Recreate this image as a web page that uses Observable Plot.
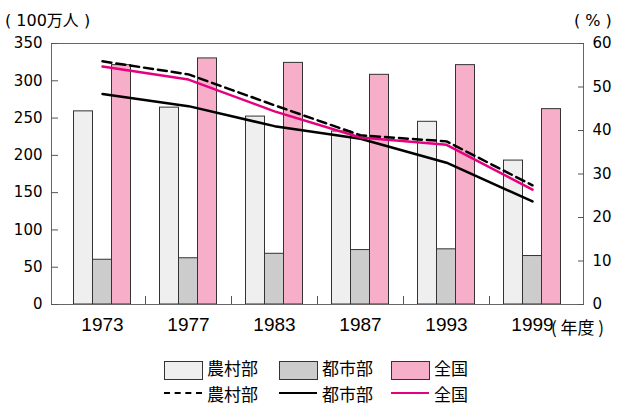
<!DOCTYPE html>
<html><head><meta charset="utf-8">
<script src="https://cdn.jsdelivr.net/npm/d3@7"></script>
<script src="https://cdn.jsdelivr.net/npm/@observablehq/plot@0.6"></script>
<style>
body{margin:0;background:#fff;}
#wrap{position:relative;width:619px;height:406px;overflow:hidden;font-family:"Liberation Sans",Arial,"Noto Sans CJK JP",sans-serif;}
.lab{position:absolute;font-family:"DejaVu Sans","Noto Sans CJK JP",sans-serif;font-size:16px;color:#000;white-space:nowrap;line-height:1;}
.lg{position:absolute;font-family:"Noto Sans CJK JP",sans-serif;font-size:17px;line-height:1;white-space:nowrap;}
.sw{position:absolute;width:37px;height:17px;border:1px solid #333;box-sizing:content-box;}
.ln{position:absolute;width:38px;height:0;}
</style></head>
<body><div id="wrap"></div>
<script>
const years = ["1973","1977","1983","1987","1993","1999"];
const ruralPop = [259, 264, 252, 232, 245, 193];
const urbanPop = [60, 62, 68, 73, 74, 65];
const nationalPop = [321, 330, 324, 308, 321, 262];
const ruralPct = [55.9, 52.9, 45.8, 38.9, 37.5, 27.4];
const urbanPct = [48.4, 45.6, 41.0, 38.1, 32.6, 23.7];
const nationalPct = [54.7, 51.7, 44.4, 38.4, 36.7, 26.4];
const leftTicks = [0, 50, 100, 150, 200, 250, 300, 350];
const rightTicks = [0, 10, 20, 30, 40, 50, 60];
const seriesNames = ["農村部", "都市部", "全国"];

const k = 350 / 60;
const rows = years.map((y, i) => ({
  year: y, rural: ruralPop[i], urban: urbanPop[i], national: nationalPop[i],
  ruralPct: ruralPct[i], urbanPct: urbanPct[i], nationalPct: nationalPct[i]
}));

const cLight = "#efefef", cGray = "#cccccc", cPink = "#f7aec8", cMag = "#e4007f";
const yFont = {fontFamily: "DejaVu Sans", fontSize: 15};

const chart = Plot.plot({
  width: 619, height: 340,
  marginLeft: 51, marginRight: 36, marginTop: 43, marginBottom: 36,
  x: {domain: years, inset: 8, padding: 0, label: null},
  y: {domain: [0, 350], label: null},
  style: {fontFamily: "Liberation Sans, Arial, sans-serif", fontSize: "15px", background: "white", color: "black"},
  marks: [
    Plot.barY(rows, {x: "year", y: "rural", fill: cLight, stroke: "#333", insetLeft: 14.5, insetRight: 52.5}),
    Plot.barY(rows, {x: "year", y: "urban", fill: cGray, stroke: "#333", insetLeft: 33.5, insetRight: 33.5}),
    Plot.barY(rows, {x: "year", y: "national", fill: cPink, stroke: "#333", insetLeft: 52.5, insetRight: 14.5}),
    Plot.line(rows, {x: "year", y: d => d.urbanPct * k, stroke: "black", strokeWidth: 2.5}),
    Plot.line(rows, {x: "year", y: d => d.nationalPct * k, stroke: cMag, strokeWidth: 2.5}),
    Plot.line(rows, {x: "year", y: d => d.ruralPct * k, stroke: "black", strokeWidth: 2.5, strokeDasharray: "9,5"}),
    Plot.frame({stroke: "#666"}),
    Plot.axisY({ticks: leftTicks, tickSize: 0, tickPadding: 9, ...yFont}),
    Plot.axisY({ticks: leftTicks, tickSize: -7, text: null, stroke: "#555"}),
    Plot.axisY({anchor: "right", ticks: rightTicks.map(p => p * k), tickFormat: d => Math.round(d / k), tickSize: 0, tickPadding: 9, ...yFont}),
    Plot.axisY({anchor: "right", ticks: rightTicks.map(p => p * k), tickSize: -6, text: null, stroke: "#555"}),
    Plot.axisX({tickSize: 0, tickPadding: 13, fontSize: 19}),
    Plot.axisX({ticks: years.slice(0, -1), tickSize: -8, text: null, dx: 43, stroke: "#555"})
  ]
});

const wrap = document.getElementById("wrap");
chart.style.position = "absolute";
chart.style.left = "0px";
chart.style.top = "0px";
wrap.appendChild(chart);

function add(cls, text, css) {
  const el = document.createElement("div");
  el.className = cls;
  if (text) el.textContent = text;
  Object.assign(el.style, css);
  wrap.appendChild(el);
  return el;
}
add("lab", "( 100万人 )", {left: "5px", top: "13px"});
add("lab", "( % )", {left: "574px", top: "13px"});
add("lg", "( 年度 )", {left: "551px", top: "318px"});

// legend
const swFill = [cLight, cGray, cPink];
const xs = [164, 279, 391];
const lineStyles = [
  {borderTop: "2.5px dashed #000"},
  {borderTop: "2.5px solid #000"},
  {borderTop: "2.5px solid " + cMag}
];
seriesNames.forEach((n, i) => {
  add("sw", "", {left: xs[i] + "px", top: "361px", background: swFill[i]});
  add("lg", n, {left: (xs[i] + 43) + "px", top: "359px"});
  add("ln", "", {left: xs[i] + "px", top: "392px", ...lineStyles[i]});
  add("lg", n, {left: (xs[i] + 43) + "px", top: "384.5px"});
});
</script></body></html>
